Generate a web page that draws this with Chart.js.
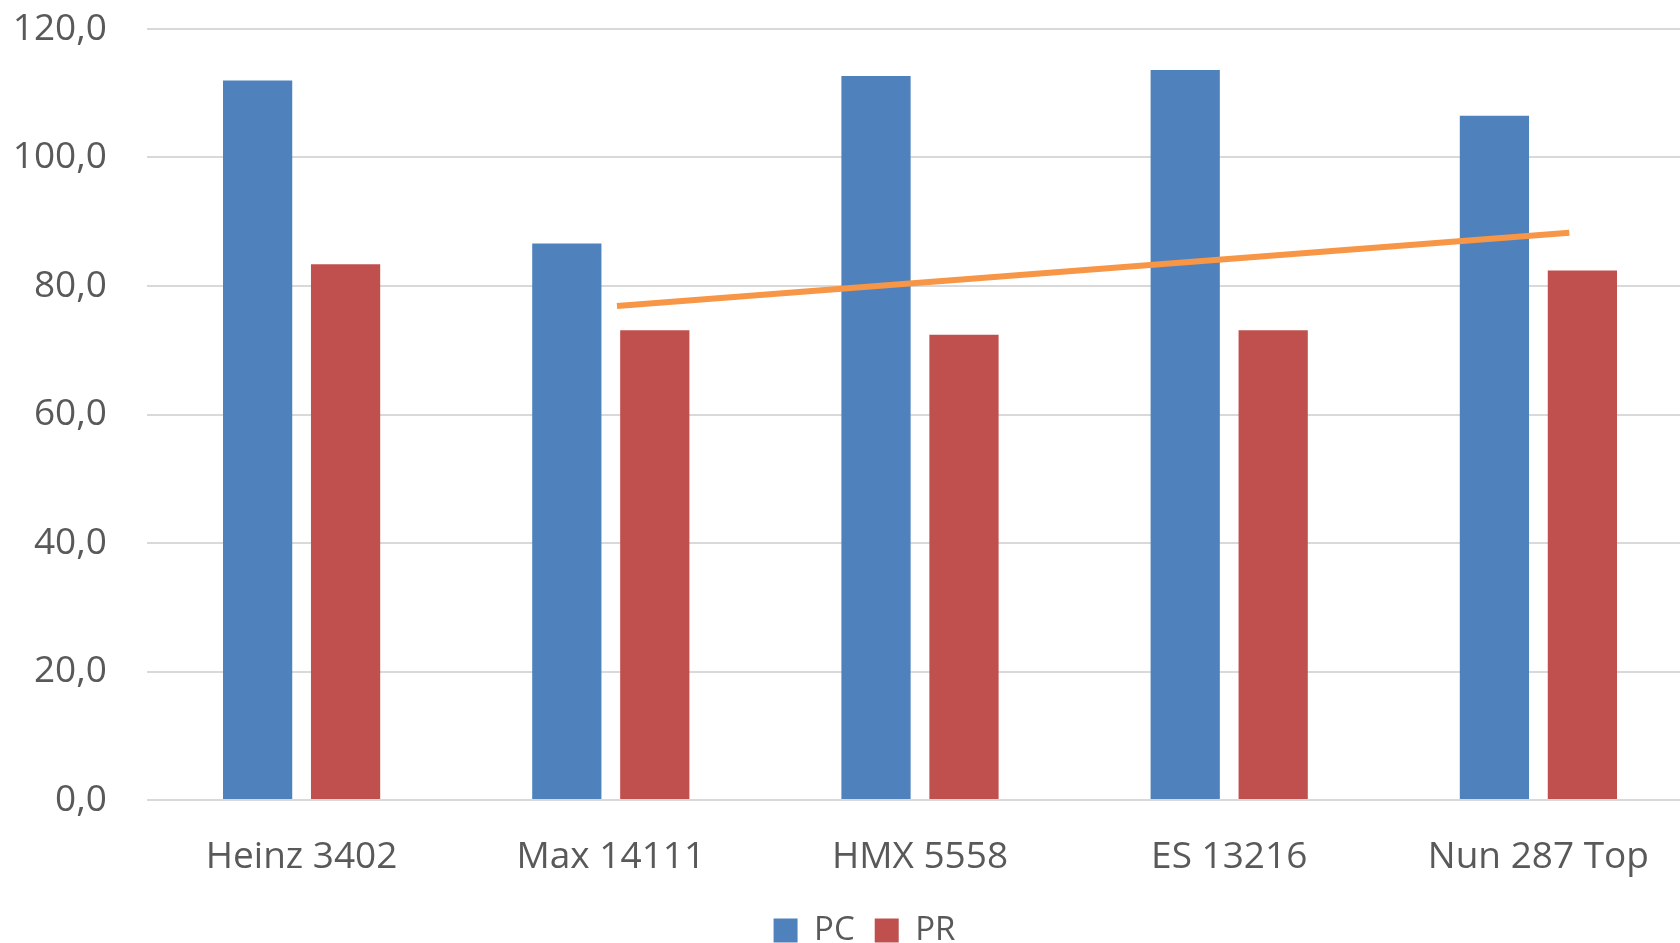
<!DOCTYPE html>
<html>
<head>
<meta charset="utf-8">
<script src="https://cdn.jsdelivr.net/npm/chart.js@4/dist/chart.umd.min.js"></script>
<style>
  html, body { margin: 0; padding: 0; background: #fff; overflow: hidden; }
  #wrap { position: absolute; left: 0; top: 0; width: 1693px; height: 958px; }
</style>
</head>
<body>
<div id="wrap"><canvas id="chart"></canvas></div>
<script>
const categories = ["Heinz 3402", "Max 14111", "HMX 5558", "ES 13216", "Nun 287 Top"];
const pcValues = [112.0, 86.6, 112.7, 113.6, 106.5];
const prValues = [83.4, 73.1, 72.4, 73.1, 82.4];
// orange line over the bars, x in category units (0 = first category)
const trendX = [1.02, 4.1];
const trendY = [76.9, 88.3];

const textColor = "#595959";
const font = { family: "'Open Sans', sans-serif", size: 37 };

// draws the orange line with the chart's own x/y scales
const trendLine = {
    id: "trendLine",
    afterDatasetsDraw(chart) {
        const xs = chart.scales.x, ys = chart.scales.y;
        const ctx = chart.ctx;
        ctx.save();
        ctx.strokeStyle = "#F79646";
        ctx.lineWidth = 6;
        ctx.beginPath();
        trendX.forEach((v, i) => {
            const px = xs.getPixelForValue(v), py = ys.getPixelForValue(trendY[i]);
            if (i === 0) ctx.moveTo(px, py); else ctx.lineTo(px, py);
        });
        ctx.stroke();
        ctx.restore();
    }
};

// legend sits a bit right of the canvas centre in the original
const legendShift = {
    id: "legendShift",
    afterLayout(chart) {
        chart.legend.left += 18;
        chart.legend.right += 18;
    }
};

new Chart(document.getElementById("chart"), {
    type: "bar",
    data: {
        labels: categories,
        datasets: [
            {
                label: "PC",
                data: pcValues,
                backgroundColor: "#4F81BD"
            },
            {
                label: "PR",
                data: prValues,
                backgroundColor: "#C0504D"
            }
        ]
    },
    options: {
        responsive: true,
        maintainAspectRatio: false,
        animation: false,
        categoryPercentage: 0.569,
        barPercentage: 0.787,
        layout: { padding: { top: 29, left: 0, right: 0, bottom: 1 } },
        plugins: {
            legend: {
                position: "bottom",
                labels: {
                    color: textColor,
                    font: { family: font.family, size: 33 },
                    boxWidth: 24,
                    boxHeight: 24,
                    padding: 20
                }
            },
            tooltip: { enabled: false }
        },
        scales: {
            x: {
                grid: { display: false },
                border: { display: false },
                ticks: { color: textColor, font: font, padding: 27, maxRotation: 0 },
                afterFit: scale => { scale.height = 94; }
            },
            y: {
                min: 0,
                max: 120,
                border: { display: false },
                grid: { color: "#d9d9d9", lineWidth: 2, drawTicks: false },
                ticks: {
                    stepSize: 20,
                    color: textColor,
                    font: font,
                    padding: 40,
                    callback: v => v.toFixed(1).replace(".", ",")
                },
                afterFit: scale => {
                    scale.width = 147;
                    scale.paddingTop = 0;
                    scale.paddingBottom = 0;
                }
            }
        }
    },
    plugins: [trendLine, legendShift]
});
</script>
</body>
</html>
